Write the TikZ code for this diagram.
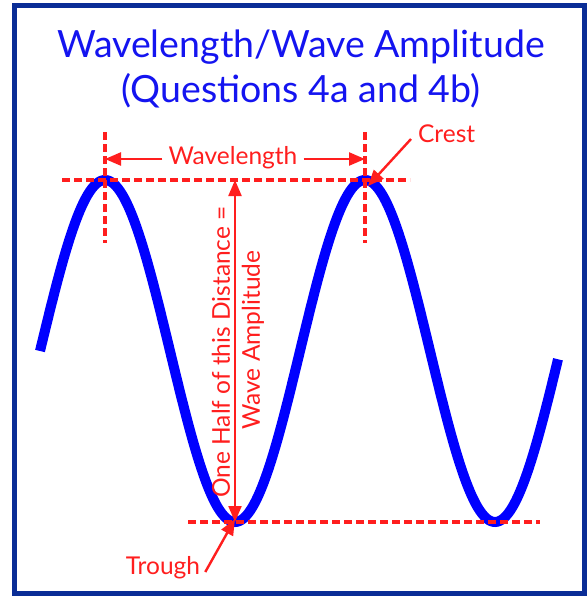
\documentclass[tikz,border=0pt]{standalone}
\usepackage{fontspec}
\setmainfont{Lato}
\usetikzlibrary{arrows.meta}
\definecolor{frameblue}{RGB}{10,45,150}
\definecolor{wavered}{RGB}{255,30,30}
\definecolor{titleblue}{RGB}{20,20,240}
\definecolor{waveblue}{RGB}{0,0,255}
\begin{document}
\begin{tikzpicture}[x=1pt,y=-1pt,
  guide/.style={draw=wavered,line width=3.5pt,dash pattern=on 8pt off 4pt},
  redarrow/.style={draw=wavered,line width=2.4pt,-{Triangle[length=16pt,width=13pt]}},
  redlbl/.style={text=wavered,font=\fontsize{24.5}{28}\selectfont,inner sep=1pt},
  titlelbl/.style={text=titleblue,font=\fontsize{37.5}{45}\selectfont,align=center}]
\useasboundingbox (0,0) rectangle (588,598);
\fill[white] (0,0) rectangle (588,598);
\draw[frameblue,line width=5pt] (14.5,5.5) rectangle (584,593);
% title
\node[titlelbl] (title) at (301,69) {Wavelength/Wave Amplitude\\(Questions 4a and 4b)};
% key points
\coordinate (crestA) at (105,180);
\coordinate (crestB) at (365,180);
\coordinate (troughA) at (235,522);
\coordinate (troughB) at (493,522);
% guide lines
\coordinate (hTopL) at (62,180); \coordinate (hTopR) at (410,180);
\coordinate (hBotL) at (188,522); \coordinate (hBotR) at (540,522);
\coordinate (vAt) at (105,132); \coordinate (vAb) at (105,243);
\coordinate (vBt) at (365,132); \coordinate (vBb) at (365,243);
% wave
\draw[waveblue,line width=10pt] plot[domain=40:558,samples=240,smooth] (\x,{351-171*sin((\x-40)/260*360)});
\draw[guide] (hTopL) -- (hTopR);
\draw[guide] (hBotL) -- (hBotR);
\draw[guide] (vAt) -- (vAb);
\draw[guide] (vBt) -- (vBb);
% wavelength
\node[redlbl] (wl) at (233,158) {Wavelength};
\coordinate (wlL) at (105,159);
\coordinate (wlR) at (365,159);
\draw[redarrow] ([xshift=-5pt]wl.west|-wlL) -- (wlL);
\draw[redarrow] ([xshift=5pt]wl.east|-wlR) -- (wlR);
% crest
\node[redlbl,anchor=west] (crest) at (417,134) {Crest};
\draw[redarrow] (crest.west) ++(-6,5) coordinate (crT) (crT) -- ([xshift=3pt,yshift=-6pt]crestB);
% trough
\node[redlbl] (trough) at (163,568) {Trough};
\draw[redarrow] ([xshift=4pt,yshift=-4pt]trough.east) -- ([yshift=3pt]troughA);
% amplitude arrow
\draw[draw=wavered,line width=2.2pt,{Triangle[length=16pt,width=13pt]}-{Triangle[length=16pt,width=13pt]}] (235,180) -- (troughA);
\node[redlbl,rotate=90] (halfA) at (221,352) {One Half of this Distance =};
\node[redlbl,rotate=90] (halfB) at (253,340) {Wave Amplitude};
\end{tikzpicture}
\end{document}
